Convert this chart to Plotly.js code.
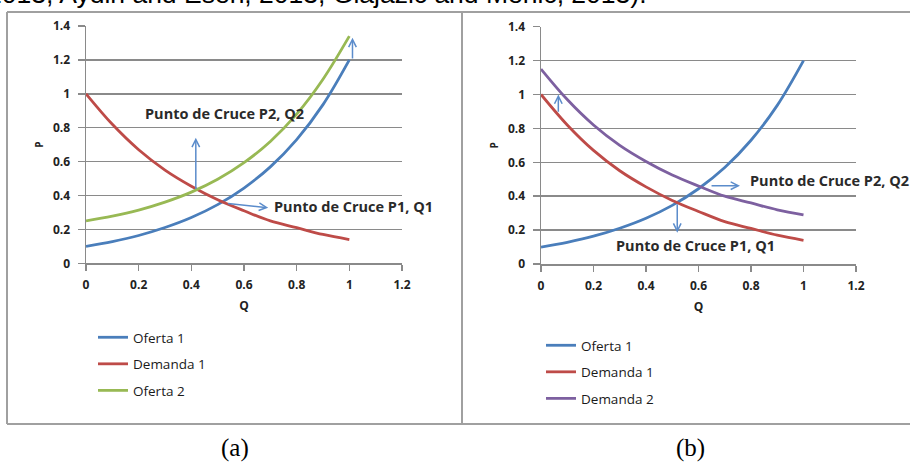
<!DOCTYPE html>
<html>
<head>
<meta charset="utf-8">
<script src="https://cdn.plot.ly/plotly-3.0.1.min.js"></script>
<style>html,body{margin:0;padding:0;background:#fff;}#chart{width:910px;height:463px;}</style>
</head>
<body>
<div id="chart"></div>
<script>
// Data
const qValues   = [0, 0.1, 0.2, 0.3, 0.4, 0.5, 0.6, 0.7, 0.8, 0.9, 1.0];
const oferta1   = [0.10, 0.128, 0.164, 0.211, 0.270, 0.346, 0.444, 0.569, 0.730, 0.936, 1.20];
const demanda1  = [1.00, 0.82, 0.67, 0.55, 0.455, 0.375, 0.31, 0.25, 0.21, 0.17, 0.14];
const oferta2   = [0.25, 0.278, 0.314, 0.361, 0.42, 0.496, 0.594, 0.719, 0.88, 1.086, 1.34];
const demanda2  = [1.15, 0.97, 0.82, 0.70, 0.605, 0.525, 0.46, 0.40, 0.36, 0.32, 0.29];
const xTicks    = [0, 0.2, 0.4, 0.6, 0.8, 1, 1.2];
const yTicks    = [0, 0.2, 0.4, 0.6, 0.8, 1, 1.2, 1.4];
const labelP2   = 'Punto de Cruce P2, Q2';
const labelP1   = 'Punto de Cruce P1, Q1';
// arrows: [tailX, tailY, headX, headY]
const arrowsA   = [[0.417, 0.43, 0.417, 0.74], [0.534, 0.354, 0.692, 0.328], [1.012, 1.2, 1.012, 1.33]];
const arrowsB   = [[0.066, 0.89, 0.066, 1.0], [0.644, 0.462, 0.758, 0.462], [0.519, 0.362, 0.519, 0.185]];
// label anchors (left edge, middle)
const labelsA   = [[labelP2, 0.2175, 0.881], [labelP1, 0.708, 0.334]];
const labelsB   = [[labelP2, 0.79, 0.49], [labelP1, 0.278, 0.112]];
const topText   = '2013, Aydin and Esen, 2013, Glajazic and Mehic, 2013).';

const cBlue = '#4A7EBB', cRed = '#BE4B48', cGreen = '#98B954', cPurple = '#7D60A0';
const arrowColor = '#5B8CCB';
const gridColor = '#8a8a8a';

function tr(name, y, color, xa, ya, lg) {
  return {x: qValues, y: y, name: name, type: 'scatter', mode: 'lines',
    line: {color: color, width: 2.8, shape: 'spline'}, xaxis: xa, yaxis: ya,
    legend: lg, legendgroup: lg + name, hoverinfo: 'skip'};
}
const data = [
  tr('Oferta 1', oferta1, cBlue, 'x', 'y', 'legend'),
  tr('Demanda 1', demanda1, cRed, 'x', 'y', 'legend'),
  tr('Oferta 2', oferta2, cGreen, 'x', 'y', 'legend'),
  tr('Oferta 1', oferta1, cBlue, 'x2', 'y2', 'legend2'),
  tr('Demanda 1', demanda1, cRed, 'x2', 'y2', 'legend2'),
  tr('Demanda 2', demanda2, cPurple, 'x2', 'y2', 'legend2')
];

const tickFont = {family: 'Open Sans', size: 12, color: '#222', weight: 'bold'};
function xax(domain, anchor) {
  return {domain: domain, anchor: anchor, range: [0, 1.2], tickvals: xTicks, ticktext: xTicks.map(String),
    showgrid: false, zeroline: false, showline: true, linecolor: gridColor, linewidth: 1.5,
    ticks: 'outside', ticklen: 6, tickcolor: gridColor, tickwidth: 1.5, tickfont: tickFont,
    ticklabelstandoff: 4,
    title: {text: 'Q', font: {family: 'Open Sans', size: 12, color: '#222', weight: 'bold'}, standoff: 9},
    fixedrange: true};
}
function yax(domain, anchor) {
  return {domain: domain, anchor: anchor, range: [0, 1.4], tickvals: yTicks, ticktext: yTicks.map(String),
    showgrid: true, gridcolor: gridColor, gridwidth: 1.5, zeroline: false, showline: true,
    linecolor: gridColor, linewidth: 1.5, ticks: 'outside', ticklen: 7, tickcolor: gridColor, tickwidth: 1.5,
    tickfont: tickFont, ticklabelstandoff: 5,
    title: {text: 'P', font: {family: 'Open Sans', size: 10, color: '#222', weight: 'bold'}, standoff: 7},
    fixedrange: true};
}

const annotations = [];
function addArrows(list, xr, yr) {
  list.forEach(a => annotations.push({xref: xr, yref: yr, axref: xr, ayref: yr,
    ax: a[0], ay: a[1], x: a[2], y: a[3], text: '', showarrow: true,
    arrowhead: 5, arrowsize: 1, arrowwidth: 1.5, arrowcolor: arrowColor, standoff: 0, startstandoff: 0}));
}
function addLabels(list, xr, yr) {
  list.forEach(l => annotations.push({xref: xr, yref: yr, x: l[1], y: l[2], text: l[0], showarrow: false,
    xanchor: 'left', yanchor: 'middle',
    font: {family: 'Open Sans', size: 14.5, color: '#2a2a2a', weight: 'bold'}}));
}
addArrows(arrowsA, 'x', 'y');
addArrows(arrowsB, 'x2', 'y2');
addLabels(labelsA, 'x', 'y');
addLabels(labelsB, 'x2', 'y2');
annotations.push({xref: 'paper', yref: 'paper', x: -15 / 910, y: 1.0119, xanchor: 'left', yanchor: 'middle',
  text: topText, showarrow: false, font: {family: 'Liberation Sans', size: 26.5, color: '#000'}});
annotations.push({xref: 'paper', yref: 'paper', x: 235 / 910, y: 1 - 448 / 463, xanchor: 'center', yanchor: 'middle',
  text: '(a)', showarrow: false, font: {family: 'Liberation Serif', size: 25, color: '#000'}});
annotations.push({xref: 'paper', yref: 'paper', x: 690 / 910, y: 1 - 448 / 463, xanchor: 'center', yanchor: 'middle',
  text: '(b)', showarrow: false, font: {family: 'Liberation Serif', size: 25, color: '#000'}});

const bc = '#a0a0a0';
function pline(x0, y0, x1, y1) {
  return {type: 'line', xref: 'paper', yref: 'paper', x0: x0 / 910, x1: x1 / 910,
    y0: 1 - y0 / 463, y1: 1 - y1 / 463, line: {color: bc, width: 2}};
}
const shapes = [pline(7, 12, 910, 12), pline(7, 12, 7, 424), pline(462, 12, 462, 424), pline(7, 424, 910, 424)];

const legendFont = {family: 'Open Sans', size: 13.5, color: '#1a1a1a'};
const layout = {
  width: 910, height: 463, margin: {l: 0, r: 0, t: 0, b: 0},
  paper_bgcolor: '#fff', plot_bgcolor: '#fff', showlegend: true,
  xaxis: xax([86 / 910, 402 / 910], 'y'),
  yaxis: yax([1 - 263.3 / 463, 1 - 26 / 463], 'x'),
  xaxis2: xax([541 / 910, 856 / 910], 'y2'),
  yaxis2: yax([1 - 264 / 463, 1 - 26.7 / 463], 'x2'),
  legend: {x: 93 / 910, xanchor: 'left', y: 1 - 364 / 463, yanchor: 'middle', font: legendFont,
    tracegroupgap: 6, traceorder: 'grouped', bgcolor: 'rgba(0,0,0,0)', borderwidth: 0},
  legend2: {x: 541 / 910, xanchor: 'left', y: 1 - 372 / 463, yanchor: 'middle', font: legendFont,
    tracegroupgap: 6, traceorder: 'grouped', bgcolor: 'rgba(0,0,0,0)', borderwidth: 0},
  annotations: annotations, shapes: shapes,
  hovermode: false
};
Plotly.newPlot('chart', data, layout, {staticPlot: true, displayModeBar: false});
</script>
</body>
</html>
